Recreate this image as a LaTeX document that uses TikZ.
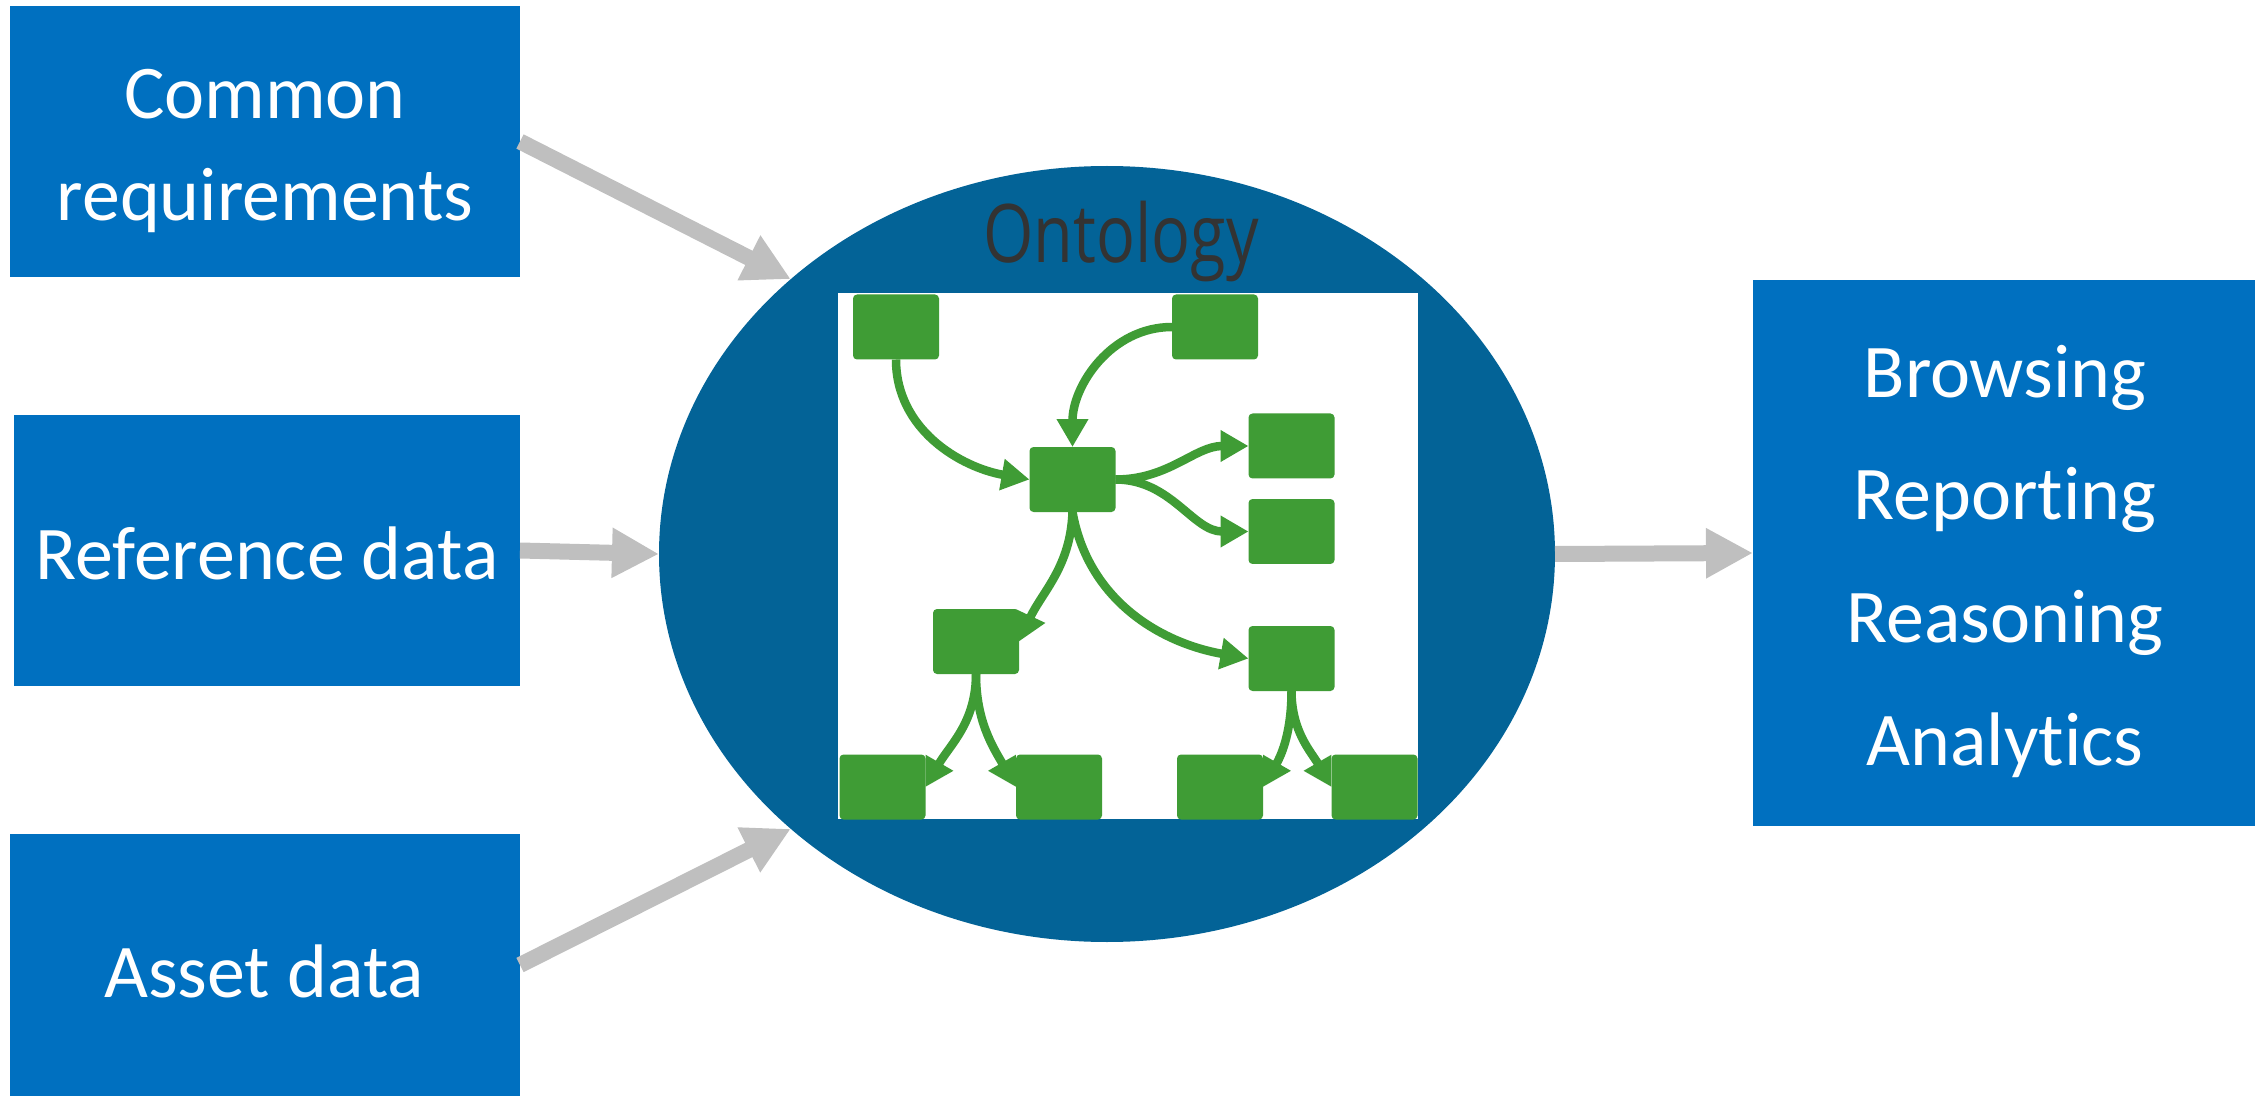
\documentclass[tikz,border=0pt]{standalone}
\usepackage{fontspec}
\setmainfont[Ligatures={NoCommon,NoRare}]{Carlito}
\newfontfamily\ontfont[FakeStretch=0.8]{Open Sans}
\usetikzlibrary{shapes.geometric,arrows.meta}
\definecolor{boxblue}{HTML}{0070C0}
\definecolor{ellblue}{HTML}{036397}
\definecolor{arrgray}{HTML}{BFBFBF}
\definecolor{grn}{HTML}{3F9C35}
\definecolor{ontgray}{HTML}{333333}
\begin{document}
\begin{tikzpicture}[
  bluebox/.style={fill=boxblue, draw=none, inner sep=0pt, outer sep=0pt},
  boxtext/.style={text=white, align=center, anchor=base, inner sep=0pt},
  bigarrow/.style={draw=arrgray, line width=0.16cm, -{Triangle[length=0.47cm,width=0.47cm]}},
  gbox/.style={fill=grn, draw=none, minimum width=0.86cm, minimum height=0.65cm, rounded corners=0.04cm, inner sep=0pt, outer sep=0pt},
  gedge/.style={draw=grn, line width=0.085cm, -{Triangle[length=0.28cm,width=0.30cm]}},
]
\useasboundingbox (0,0) rectangle (22.62,10.96);

% blue boxes
\node[bluebox, minimum width=5.10cm, minimum height=2.71cm] (req) at (2.65,9.545) {};
\node[bluebox, minimum width=5.06cm, minimum height=2.71cm] (ref) at (2.67,5.455) {};
\node[bluebox, minimum width=5.10cm, minimum height=2.62cm] (asset) at (2.65,1.31) {};
\node[bluebox, minimum width=5.02cm, minimum height=5.46cm] (out) at (20.04,5.43) {};

\node[boxtext, font=\fontsize{21.6}{29.3}\selectfont] (reqt) at (2.65,8.75) {Common\\requirements};
\node[boxtext, font=\fontsize{21.6}{29.3}\selectfont] (reft) at (2.67,5.16) {Reference data};
\node[boxtext, font=\fontsize{21.6}{29.3}\selectfont] (assett) at (2.64,0.99) {Asset data};
\node[boxtext, font=\fontsize{21.6}{34.9}\selectfont] (outt) at (20.05,3.31) {Browsing\\Reporting\\Reasoning\\Analytics};

% ontology ellipse
\node[ellipse, fill=ellblue, draw=none, minimum width=8.96cm, minimum height=7.76cm, inner sep=0pt, outer sep=0pt] (ont) at (11.07,5.42) {};
\node[fill=white, draw=none, minimum width=5.80cm, minimum height=5.26cm, inner sep=0pt, outer sep=0pt] (canvas) at (11.28,5.40) {};
\node[text=ontgray, font=\ontfont\fontsize{23}{28}\selectfont, anchor=base, inner sep=0pt] (ontlabel) at (11.21,8.33) {Ontology};

% green graph
\node[gbox] (g1) at (8.96,7.69) {};
\node[gbox] (g2) at (12.15,7.69) {};
\node[gbox] (gc) at (10.725,6.165) {};
\node[gbox] (gr1) at (12.915,6.50) {};
\node[gbox] (gr2) at (12.915,5.645) {};
\node[gbox] (glm) at (9.76,4.545) {};
\node[gbox] (grm) at (12.915,4.375) {};
\node[gbox] (gb1) at (8.825,3.09) {};
\node[gbox] (gb2) at (10.59,3.09) {};
\node[gbox] (gb3) at (12.20,3.09) {};
\node[gbox] (gb4) at (13.745,3.09) {};

\draw[gedge] (g1.south) to[out=-90,in=170] (gc.west);
\draw[gedge] (g2.west) to[out=180,in=90] (gc.north);
\draw[gedge] (gc.east) to[out=0,in=180] (gr1.west);
\draw[gedge] (gc.east) to[out=0,in=180] (gr2.west);
\draw[gedge] (gc.south) to[out=-92,in=65] (glm.east);
\draw[gedge] (gc.south) to[out=-80,in=170] (grm.west);
\draw[gedge] (glm.south) to[out=-90,in=60] (gb1.east);
\draw[gedge] (glm.south) to[out=-90,in=120] (gb2.west);
\draw[gedge] (grm.south) to[out=-90,in=60] (gb3.east);
\draw[gedge] (grm.south) to[out=-90,in=120] (gb4.west);

% gray arrows
\draw[bigarrow] (req.east) -- (ont.139);
\draw[bigarrow] (ref.east) -- (ont.west);
\draw[bigarrow] (asset.east) -- (ont.221);
\draw[bigarrow] (ont.east) -- (out.west);
\end{tikzpicture}
\end{document}
